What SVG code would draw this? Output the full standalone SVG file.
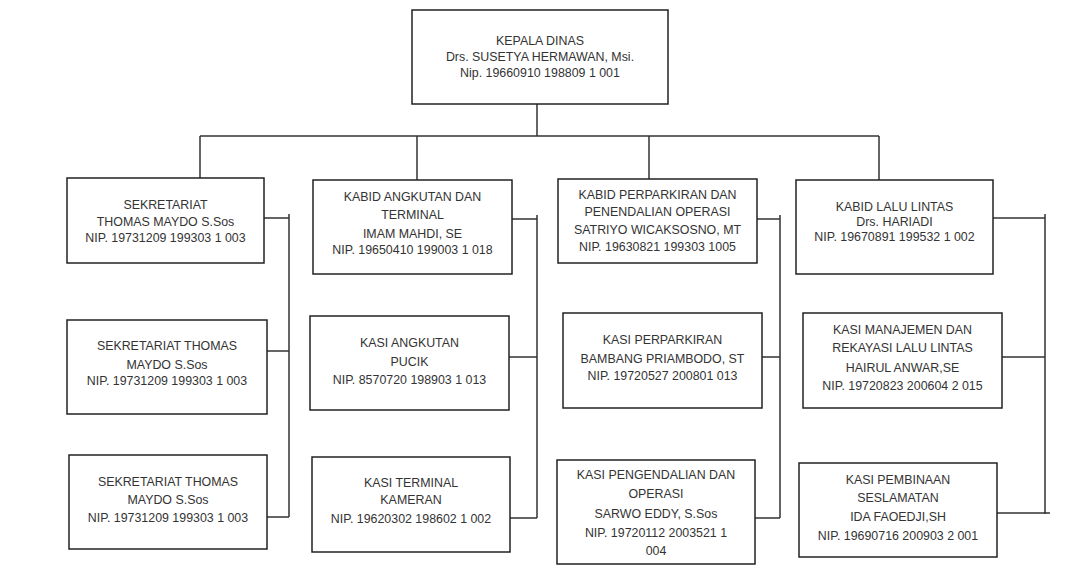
<svg xmlns="http://www.w3.org/2000/svg" width="1065" height="577" viewBox="0 0 1065 577">
<style>
.b{fill:#fff;stroke:#222;stroke-width:1.5}
.t{font-family:"Liberation Sans",Arial,sans-serif;font-size:12.4px;fill:#333;text-anchor:middle}
.c{fill:none;stroke:#333;stroke-width:1.5}
</style>
<rect width="1065" height="577" fill="#fff"/>
<g id="connectors">
<path class="c" d="M537,104V136M200,136H879M200,136V178M417,136V180M649,136V179M879,136V180"/>
<path class="c" d="M264,218H289M289,214V517M267,351H289M267,517H289"/>
<path class="c" d="M512,219H537M537,215V518M509,357H537M510,518H537"/>
<path class="c" d="M757,219H780M780,215V518M762,357H780M755,518H780"/>
<path class="c" d="M993,218H1045M1045,214V514M1001,357H1045M997,513H1050"/>
</g>
<g id="kepala"><rect class="b" x="412" y="10" width="256" height="94"/>
<text class="t" x="540" y="45">KEPALA DINAS</text><text class="t" x="540" y="61">Drs. SUSETYA HERMAWAN, Msi.</text><text class="t" x="540" y="77">Nip. 19660910 198809 1 001</text></g>
<g id="sek1"><rect class="b" x="67" y="178" width="197" height="85"/>
<text class="t" x="165.5" y="209">SEKRETARIAT</text><text class="t" x="165.5" y="226">THOMAS MAYDO S.Sos</text><text class="t" x="165.5" y="242">NIP. 19731209 199303 1 003</text></g>
<g id="sek2"><rect class="b" x="67" y="320" width="200" height="94"/>
<text class="t" x="167" y="350">SEKRETARIAT THOMAS</text><text class="t" x="167" y="369">MAYDO S.Sos</text><text class="t" x="167" y="385">NIP. 19731209 199303 1 003</text></g>
<g id="sek3"><rect class="b" x="69" y="455" width="198" height="94"/>
<text class="t" x="168" y="486">SEKRETARIAT THOMAS</text><text class="t" x="168" y="504">MAYDO S.Sos</text><text class="t" x="168" y="522">NIP. 19731209 199303 1 003</text></g>
<g id="kabid-angkutan"><rect class="b" x="313" y="180" width="199" height="94"/>
<text class="t" x="412.5" y="201">KABID ANGKUTAN DAN</text><text class="t" x="412.5" y="219">TERMINAL</text><text class="t" x="412.5" y="238">IMAM MAHDI, SE</text><text class="t" x="412.5" y="254">NIP. 19650410 199003 1 018</text></g>
<g id="kasi-angkutan"><rect class="b" x="310" y="316" width="199" height="94"/>
<text class="t" x="409.5" y="347">KASI ANGKUTAN</text><text class="t" x="409.5" y="366">PUCIK</text><text class="t" x="409.5" y="384">NIP. 8570720 198903 1 013</text></g>
<g id="kasi-terminal"><rect class="b" x="312" y="457" width="198" height="95"/>
<text class="t" x="411" y="487">KASI TERMINAL</text><text class="t" x="411" y="504">KAMERAN</text><text class="t" x="411" y="523">NIP. 19620302 198602 1 002</text></g>
<g id="kabid-parkir"><rect class="b" x="558" y="179" width="199" height="84"/>
<text class="t" x="657.5" y="199">KABID PERPARKIRAN DAN</text><text class="t" x="657.5" y="216">PENENDALIAN OPERASI</text><text class="t" x="657.5" y="234">SATRIYO WICAKSOSNO, MT</text><text class="t" x="657.5" y="251">NIP. 19630821 199303 1005</text></g>
<g id="kasi-parkir"><rect class="b" x="563" y="313" width="199" height="95"/>
<text class="t" x="662.5" y="344">KASI PERPARKIRAN</text><text class="t" x="662.5" y="363">BAMBANG PRIAMBODO, ST</text><text class="t" x="662.5" y="380">NIP. 19720527 200801 013</text></g>
<g id="kasi-pengendalian"><rect class="b" x="557" y="460" width="198" height="104"/>
<text class="t" x="656" y="479">KASI PENGENDALIAN DAN</text><text class="t" x="656" y="498">OPERASI</text><text class="t" x="656" y="518">SARWO EDDY, S.Sos</text><text class="t" x="656" y="537">NIP. 19720112 2003521 1</text><text class="t" x="656" y="555">004</text></g>
<g id="kabid-lalulintas"><rect class="b" x="796" y="180" width="197" height="94"/>
<text class="t" x="894.5" y="211">KABID LALU LINTAS</text><text class="t" x="894.5" y="226">Drs. HARIADI</text><text class="t" x="894.5" y="241">NIP. 19670891 199532 1 002</text></g>
<g id="kasi-manajemen"><rect class="b" x="803" y="313" width="199" height="95"/>
<text class="t" x="902.5" y="334">KASI MANAJEMEN DAN</text><text class="t" x="902.5" y="352">REKAYASI LALU LINTAS</text><text class="t" x="902.5" y="372">HAIRUL ANWAR,SE</text><text class="t" x="902.5" y="390">NIP. 19720823 200604 2 015</text></g>
<g id="kasi-pembinaan"><rect class="b" x="799" y="463" width="198" height="94"/>
<text class="t" x="898" y="484">KASI PEMBINAAN</text><text class="t" x="898" y="502">SESLAMATAN</text><text class="t" x="898" y="521">IDA FAOEDJI,SH</text><text class="t" x="898" y="540">NIP. 19690716 200903 2 001</text></g>
</svg>
